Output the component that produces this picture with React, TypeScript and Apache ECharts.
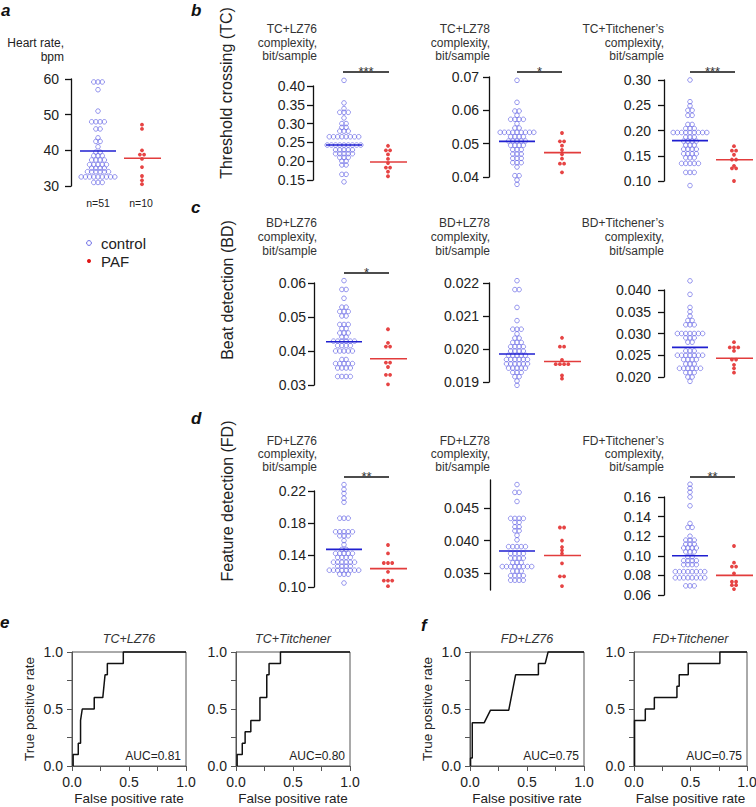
import React, { useEffect, useRef } from 'react';
import * as echarts from 'echarts';

const FONT = 'Liberation Sans, Arial, Helvetica, sans-serif';

// ---------- Data: swarm panels (control n=51, PAF n=10) ----------
const hrControl = [59.5, 59.5, 58.5, 57, 51, 48.5, 48.5, 47.5, 47.5, 46, 46, 43.5, 42.5, 42.5, 41, 39.5, 39.5, 38.5, 38.5, 38.5, 37.3, 37.3, 37.3, 37.3, 36, 36, 36, 36, 36, 35, 35, 35, 35, 34, 34, 34, 34, 34, 34, 33, 33, 33, 33, 33, 32, 32, 32, 32, 31, 31, 31];
const hrPAF = [47.2, 46, 40, 38.8, 38.8, 37.6, 35.3, 32.8, 31.6, 30.5];

const tcLz76Control = [0.415, 0.355, 0.34, 0.33, 0.33, 0.33, 0.315, 0.30, 0.30, 0.29, 0.29, 0.28, 0.28, 0.28, 0.27, 0.27, 0.27, 0.27, 0.26, 0.26, 0.26, 0.26, 0.243, 0.243, 0.243, 0.243, 0.243, 0.243, 0.243, 0.243, 0.243, 0.23, 0.23, 0.23, 0.23, 0.23, 0.22, 0.22, 0.22, 0.22, 0.22, 0.21, 0.21, 0.21, 0.20, 0.20, 0.19, 0.19, 0.165, 0.165, 0.145];
const tcLz76PAF = [0.241, 0.229, 0.229, 0.218, 0.206, 0.195, 0.183, 0.183, 0.172, 0.16];

const tcLz78Control = [0.069, 0.0624, 0.0598, 0.0598, 0.0585, 0.0573, 0.0573, 0.0573, 0.0573, 0.056, 0.0547, 0.0547, 0.0534, 0.0534, 0.0534, 0.0534, 0.0534, 0.0534, 0.0534, 0.0534, 0.0534, 0.0521, 0.0521, 0.0521, 0.0521, 0.0508, 0.0508, 0.0508, 0.0508, 0.0508, 0.0495, 0.0495, 0.0495, 0.0495, 0.0482, 0.0482, 0.0482, 0.0469, 0.0469, 0.0469, 0.0456, 0.0456, 0.0456, 0.0443, 0.0443, 0.0443, 0.043, 0.0404, 0.0404, 0.0391, 0.0378];
const tcLz78PAF = [0.0532, 0.0507, 0.0507, 0.0494, 0.0481, 0.0468, 0.0455, 0.044, 0.044, 0.0414];

const tcTitControl = [0.30, 0.257, 0.249, 0.24, 0.24, 0.23, 0.23, 0.212, 0.212, 0.204, 0.204, 0.204, 0.196, 0.196, 0.196, 0.196, 0.196, 0.196, 0.196, 0.196, 0.196, 0.187, 0.187, 0.187, 0.179, 0.179, 0.179, 0.179, 0.171, 0.171, 0.171, 0.163, 0.163, 0.163, 0.163, 0.154, 0.154, 0.154, 0.154, 0.146, 0.146, 0.146, 0.138, 0.138, 0.138, 0.13, 0.13, 0.121, 0.115, 0.115, 0.091];
const tcTitPAF = [0.169, 0.16, 0.16, 0.152, 0.145, 0.14, 0.13, 0.125, 0.125, 0.10];

const bdLz76Control = [0.0607, 0.0581, 0.0581, 0.0555, 0.0529, 0.0529, 0.0516, 0.0516, 0.0516, 0.0503, 0.0503, 0.0478, 0.0478, 0.0478, 0.0466, 0.0466, 0.0453, 0.0453, 0.0453, 0.0441, 0.0441, 0.0429, 0.0429, 0.0429, 0.0429, 0.0429, 0.0429, 0.0416, 0.0416, 0.0416, 0.0416, 0.04, 0.04, 0.04, 0.04, 0.04, 0.0375, 0.0375, 0.0363, 0.0363, 0.0363, 0.0363, 0.0363, 0.035, 0.035, 0.035, 0.035, 0.0325, 0.0325, 0.0325, 0.0325];
const bdLz76PAF = [0.0464, 0.0424, 0.0413, 0.0413, 0.0366, 0.0366, 0.0353, 0.033, 0.033, 0.0302];

const bdLz78Control = [0.02207, 0.0218, 0.0218, 0.02126, 0.02086, 0.0206, 0.0206, 0.0206, 0.02046, 0.02033, 0.02033, 0.0202, 0.0202, 0.0202, 0.02007, 0.02007, 0.02007, 0.02007, 0.01994, 0.01994, 0.01994, 0.01994, 0.01981, 0.01981, 0.01981, 0.01981, 0.01981, 0.01968, 0.01968, 0.01968, 0.01968, 0.01968, 0.01968, 0.01955, 0.01955, 0.01955, 0.01955, 0.01955, 0.01955, 0.01942, 0.01942, 0.01942, 0.01942, 0.01942, 0.01929, 0.01929, 0.01929, 0.01916, 0.01916, 0.01903, 0.0189];
const bdLz78PAF = [0.02034, 0.02007, 0.02007, 0.01967, 0.01954, 0.01954, 0.01954, 0.01954, 0.0192, 0.0191];

const bdTitControl = [0.0421, 0.039, 0.036, 0.035, 0.034, 0.033, 0.033, 0.032, 0.032, 0.032, 0.030, 0.030, 0.030, 0.030, 0.030, 0.030, 0.030, 0.029, 0.029, 0.029, 0.028, 0.028, 0.026, 0.026, 0.026, 0.025, 0.025, 0.025, 0.025, 0.025, 0.025, 0.025, 0.024, 0.024, 0.024, 0.024, 0.023, 0.023, 0.023, 0.022, 0.022, 0.022, 0.022, 0.022, 0.022, 0.021, 0.021, 0.021, 0.020, 0.020, 0.019];
const bdTitPAF = [0.028, 0.0272, 0.0266, 0.0266, 0.026, 0.024, 0.024, 0.0228, 0.022, 0.021];

const fdLz76Control = [0.228, 0.222, 0.217, 0.211, 0.206, 0.186, 0.186, 0.186, 0.169, 0.169, 0.169, 0.169, 0.169, 0.164, 0.164, 0.164, 0.158, 0.153, 0.147, 0.147, 0.142, 0.142, 0.142, 0.142, 0.142, 0.137, 0.137, 0.137, 0.137, 0.131, 0.131, 0.131, 0.131, 0.131, 0.131, 0.126, 0.126, 0.126, 0.126, 0.121, 0.121, 0.121, 0.121, 0.121, 0.121, 0.121, 0.121, 0.116, 0.116, 0.116, 0.105];
const fdLz76PAF = [0.1525, 0.142, 0.13, 0.13, 0.13, 0.119, 0.108, 0.108, 0.108, 0.101];

const fdLz78Control = [0.0486, 0.0474, 0.0474, 0.046, 0.0434, 0.0434, 0.0434, 0.0434, 0.0428, 0.0428, 0.0421, 0.0421, 0.0415, 0.0415, 0.0408, 0.0401, 0.0393, 0.0393, 0.0393, 0.0387, 0.0387, 0.038, 0.038, 0.038, 0.038, 0.0373, 0.0373, 0.0373, 0.0373, 0.0366, 0.0366, 0.0366, 0.036, 0.036, 0.036, 0.036, 0.036, 0.036, 0.036, 0.036, 0.0353, 0.0353, 0.0353, 0.0346, 0.0346, 0.0346, 0.0346, 0.0339, 0.0339, 0.0339, 0.0339];
const fdLz78PAF = [0.042, 0.042, 0.040, 0.039, 0.0385, 0.038, 0.0365, 0.0345, 0.0345, 0.033];

const fdTitControl = [0.173, 0.169, 0.165, 0.16, 0.151, 0.133, 0.129, 0.129, 0.12, 0.116, 0.116, 0.116, 0.112, 0.112, 0.112, 0.108, 0.108, 0.108, 0.108, 0.104, 0.104, 0.104, 0.099, 0.099, 0.095, 0.095, 0.095, 0.095, 0.091, 0.091, 0.091, 0.091, 0.0838, 0.0838, 0.0838, 0.0838, 0.0838, 0.0838, 0.0838, 0.0838, 0.0796, 0.0796, 0.0796, 0.0796, 0.0755, 0.0755, 0.0755, 0.0755, 0.0705, 0.0705, 0.067];
const fdTitPAF = [0.11, 0.093, 0.089, 0.089, 0.082, 0.075, 0.072, 0.07, 0.07, 0.066];

// means (horizontal bars), panel order: a, b1, b2, b3, c1, c2, c3, d1, d2, d3
const meanControl = [39.8, 0.243, 0.0507, 0.180, 0.0427, 0.01985, 0.0268, 0.147, 0.0384, 0.100];
const meanPAF = [37.8, 0.198, 0.0473, 0.142, 0.0377, 0.01962, 0.0243, 0.123, 0.0377, 0.080];

// tick labels
const hrTicks = [30, 40, 50, 60];
const tcLz76Ticks = [0.15, 0.20, 0.25, 0.30, 0.35, 0.40];
const tcLz78Ticks = [0.04, 0.05, 0.06, 0.07];
const tcTitTicks = [0.10, 0.15, 0.20, 0.25, 0.30];
const bdLz76Ticks = [0.03, 0.04, 0.05, 0.06];
const bdLz78Ticks = [0.019, 0.020, 0.021, 0.022];
const bdTitTicks = [0.020, 0.025, 0.030, 0.035, 0.040];
const fdLz76Ticks = [0.10, 0.14, 0.18, 0.22];
const fdLz78Ticks = [0.035, 0.040, 0.045];
const fdTitTicks = [0.06, 0.08, 0.10, 0.12, 0.14, 0.16];

// ROC curves [FPR, TPR]
const rocTcLz76 = [[0.01, 0], [0.01, 0.1], [0.055, 0.1], [0.055, 0.2], [0.075, 0.2], [0.075, 0.4], [0.09, 0.5], [0.195, 0.5], [0.195, 0.6], [0.27, 0.6], [0.29, 0.8], [0.31, 0.8], [0.31, 0.9], [0.45, 0.9], [0.45, 1], [1, 1]];
const rocTcTitchener = [[0.01, 0], [0.01, 0.1], [0.055, 0.1], [0.055, 0.2], [0.08, 0.2], [0.08, 0.3], [0.13, 0.3], [0.13, 0.4], [0.21, 0.4], [0.21, 0.6], [0.27, 0.6], [0.27, 0.8], [0.29, 0.8], [0.29, 0.9], [0.39, 0.9], [0.39, 1], [1, 1]];
const rocFdLz76 = [[0.005, 0], [0.005, 0.07], [0.02, 0.07], [0.02, 0.38], [0.125, 0.38], [0.18, 0.49], [0.34, 0.49], [0.4, 0.8], [0.6, 0.8], [0.6, 0.9], [0.66, 0.9], [0.685, 1], [1, 1]];
const rocFdTitchener = [[0.005, 0], [0.005, 0.4], [0.1, 0.4], [0.1, 0.5], [0.18, 0.5], [0.18, 0.6], [0.38, 0.6], [0.38, 0.7], [0.4, 0.7], [0.4, 0.8], [0.48, 0.8], [0.48, 0.9], [0.76, 0.9], [0.76, 1], [1, 1]];
const rocTitles = ['TC+LZ76', 'TC+Titchener', 'FD+LZ76', 'FD+Titchener'];
const rocAUC = ['AUC=0.81', 'AUC=0.80', 'AUC=0.75', 'AUC=0.75'];

const CONTROL_STROKE = '#6b6be6';
const CONTROL_MEAN = '#1f1fd0';
const PAF_FILL = '#e01515';
const PAF_MEAN = '#e23c3c';
const TICK_FONT = 14;

function swarm(values: number[], min: number, max: number, heightPx: number, cx: number, rowPx: number, colPx: number) {
  const ppu = heightPx / (max - min);
  const bins = new Map<number, number[]>();
  values.forEach((v) => {
    const k = Math.round(((v - min) * ppu) / rowPx);
    if (!bins.has(k)) bins.set(k, []);
    bins.get(k)!.push(v);
  });
  const out: number[][] = [];
  bins.forEach((vs) => {
    const n = vs.length;
    const y = vs.reduce((s, x) => s + x, 0) / n;
    vs.forEach((_, i) => out.push([cx + (i - (n - 1) / 2) * colPx, y]));
  });
  return out;
}

function txt(x: number, y: number, text: string, o: any = {}) {
  const align = o.align || 'left';
  const va = o.va || 'middle';
  return {
    type: 'text',
    x,
    y,
    rotation: o.rot || 0,
    silent: true,
    style: {
      text,
      fontFamily: FONT,
      fontSize: o.size || 12,
      fontStyle: o.italic ? 'italic' : 'normal',
      fontWeight: o.bold ? 'bold' : 'normal',
      fill: o.color || '#222',
      align,
      textAlign: align,
      verticalAlign: va,
      textVerticalAlign: va,
    },
  };
}

function line(x1: number, y1: number, x2: number, y2: number, color = '#111', w = 1.2) {
  return { type: 'line', silent: true, shape: { x1, y1, x2, y2 }, style: { stroke: color, lineWidth: w } };
}

export default function App() {
  const ref = useRef<HTMLDivElement>(null);

  useEffect(() => {
    if (!ref.current) return;
    const chart = echarts.init(ref.current, undefined, { renderer: 'svg' });

    const panels = [
      { c: hrControl, p: hrPAF, ticks: hrTicks, dec: 0, min: 30, max: 60, ax: 71, top: 79, h: 107, w: 95, cx: 98, px: 142, m: 12 },
      { c: tcLz76Control, p: tcLz76PAF, ticks: tcLz76Ticks, dec: 2, min: 0.15, max: 0.40, ax: 313, top: 86, h: 94, w: 100, cx: 344, px: 388, m: 8 },
      { c: tcLz78Control, p: tcLz78PAF, ticks: tcLz78Ticks, dec: 2, min: 0.04, max: 0.07, ax: 489, top: 77, h: 100, w: 92, cx: 517, px: 562, m: 10 },
      { c: tcTitControl, p: tcTitPAF, ticks: tcTitTicks, dec: 2, min: 0.10, max: 0.30, ax: 664, top: 80, h: 101, w: 92, cx: 690, px: 734, m: 13 },
      { c: bdLz76Control, p: bdLz76PAF, ticks: bdLz76Ticks, dec: 2, min: 0.03, max: 0.06, ax: 314, top: 283, h: 102, w: 100, cx: 344, px: 388, m: 8 },
      { c: bdLz78Control, p: bdLz78PAF, ticks: bdLz78Ticks, dec: 3, min: 0.019, max: 0.022, ax: 489, top: 283, h: 99, w: 92, cx: 517, px: 562, m: 10 },
      { c: bdTitControl, p: bdTitPAF, ticks: bdTitTicks, dec: 3, min: 0.020, max: 0.040, ax: 664, top: 290, h: 87, w: 92, cx: 690, px: 734, m: 13 },
      { c: fdLz76Control, p: fdLz76PAF, ticks: fdLz76Ticks, dec: 2, min: 0.10, max: 0.22, ax: 314, top: 491, h: 96, w: 100, cx: 344, px: 388, m: 8 },
      { c: fdLz78Control, p: fdLz78PAF, ticks: fdLz78Ticks, dec: 3, min: 0.0324, max: 0.0493, ax: 490, top: 480, h: 110, w: 92, cx: 517, px: 562, m: 11 },
      { c: fdTitControl, p: fdTitPAF, ticks: fdTitTicks, dec: 2, min: 0.06, max: 0.16, ax: 664, top: 497, h: 98, w: 92, cx: 690, px: 734, m: 13 },
    ];

    const grid: any[] = [];
    const xAxis: any[] = [];
    const yAxis: any[] = [];
    const series: any[] = [];
    const HALF = 18;
    const labelStyle = { fontSize: TICK_FONT, fontFamily: FONT, color: '#222' };

    panels.forEach((pn, i) => {
      grid.push({ left: pn.ax, top: pn.top, width: pn.w, height: pn.h, outerBoundsMode: 'none' });
      xAxis.push({ gridIndex: i, type: 'value', min: pn.ax, max: pn.ax + pn.w, show: false });
      yAxis.push({
        gridIndex: i,
        type: 'value',
        min: pn.min,
        max: pn.max,
        splitLine: { show: false },
        axisLine: { show: true, lineStyle: { color: '#111', width: 1.3 } },
        axisTick: { show: true, length: 6, customValues: pn.ticks, lineStyle: { color: '#111', width: 1.3 } },
        axisLabel: {
          show: true,
          customValues: pn.ticks,
          formatter: (v: number) => v.toFixed(pn.dec),
          margin: pn.m,
          ...labelStyle,
        },
      });
      series.push({
        name: 'control',
        type: 'scatter',
        xAxisIndex: i,
        yAxisIndex: i,
        clip: false,
        silent: true,
        symbol: 'circle',
        symbolSize: 4.6,
        itemStyle: { color: 'rgba(255,255,255,0)', borderColor: CONTROL_STROKE, borderWidth: 0.9 },
        data: swarm(pn.c, pn.min, pn.max, pn.h, pn.cx, 4.3, 4.2),
      });
      series.push({
        name: 'PAF',
        type: 'scatter',
        xAxisIndex: i,
        yAxisIndex: i,
        clip: false,
        silent: true,
        symbol: 'circle',
        symbolSize: 3.8,
        itemStyle: { color: PAF_FILL },
        data: swarm(pn.p, pn.min, pn.max, pn.h, pn.px, 4.3, 4.2),
      });
      series.push({
        name: 'meanC',
        type: 'line',
        xAxisIndex: i,
        yAxisIndex: i,
        symbol: 'none',
        silent: true,
        z: 5,
        lineStyle: { color: CONTROL_MEAN, width: 1.6 },
        data: [[pn.cx - HALF, meanControl[i]], [pn.cx + HALF, meanControl[i]]],
      });
      series.push({
        name: 'meanP',
        type: 'line',
        xAxisIndex: i,
        yAxisIndex: i,
        symbol: 'none',
        silent: true,
        z: 5,
        lineStyle: { color: PAF_MEAN, width: 1.6 },
        data: [[pn.px - HALF, meanPAF[i]], [pn.px + HALF + 1, meanPAF[i]]],
      });
    });

    const rocs = [
      { d: rocTcLz76, left: 72, w: 114, yName: true },
      { d: rocTcTitchener, left: 236, w: 114, yName: false },
      { d: rocFdLz76, left: 470, w: 114, yName: true },
      { d: rocFdTitchener, left: 634, w: 113, yName: false },
    ];
    const base = panels.length;
    const rocFmt = (v: number) => (Math.abs(v * 2 - Math.round(v * 2)) < 1e-6 ? v.toFixed(1) : '');
    rocs.forEach((r, j) => {
      const gi = base + j;
      grid.push({ left: r.left, top: 652, width: r.w, height: 114, show: true, borderColor: '#555', borderWidth: 1, backgroundColor: 'transparent', outerBoundsMode: 'none' });
      const axisCommon = {
        type: 'value',
        min: 0,
        max: 1,
        interval: 0.25,
        gridIndex: gi,
        splitLine: { show: false },
        axisLine: { show: true, lineStyle: { color: '#555', width: 1 } },
        axisTick: { show: true, length: 5, lineStyle: { color: '#555', width: 1 } },
        nameLocation: 'middle',
        nameTextStyle: { fontSize: 13.5, fontFamily: FONT, color: '#222' },
      };
      xAxis.push({ ...axisCommon, axisLabel: { formatter: rocFmt, margin: 9, ...labelStyle }, name: 'False positive rate', nameGap: 25 });
      yAxis.push({ ...axisCommon, axisLabel: { formatter: rocFmt, margin: 9, ...labelStyle }, name: r.yName ? 'True positive rate' : '', nameGap: 36 });
      series.push({
        name: 'roc' + j,
        type: 'line',
        xAxisIndex: gi,
        yAxisIndex: gi,
        symbol: 'none',
        silent: true,
        clip: false,
        lineStyle: { color: '#111', width: 1.5 },
        data: r.d,
      });
    });

    const g: any[] = [];
    g.push(txt(1, 10, 'a', { size: 17, bold: true, italic: true, color: '#111' }));
    g.push(txt(191, 10, 'b', { size: 17, bold: true, italic: true, color: '#111' }));
    g.push(txt(191, 207, 'c', { size: 17, bold: true, italic: true, color: '#111' }));
    g.push(txt(191, 418, 'd', { size: 17, bold: true, italic: true, color: '#111' }));
    g.push(txt(0, 622, 'e', { size: 17, bold: true, italic: true, color: '#111' }));
    g.push(txt(421, 625, 'f', { size: 17, bold: true, italic: true, color: '#111' }));

    g.push(txt(226, 93, 'Threshold crossing (TC)', { size: 16, align: 'center', rot: Math.PI / 2 }));
    g.push(txt(227, 290, 'Beat detection (BD)', { size: 16, align: 'center', rot: Math.PI / 2 }));
    g.push(txt(227, 501, 'Feature detection (FD)', { size: 16, align: 'center', rot: Math.PI / 2 }));

    g.push(txt(64, 43, 'Heart rate,', { size: 12, align: 'right' }));
    g.push(txt(64, 57, 'bpm', { size: 12, align: 'right' }));
    g.push(txt(98, 203, 'n=51', { size: 10.5, align: 'center' }));
    g.push(txt(141, 203, 'n=10', { size: 10.5, align: 'center' }));

    g.push({ type: 'circle', silent: true, shape: { cx: 89, cy: 243, r: 2.4 }, style: { fill: 'none', stroke: CONTROL_STROKE, lineWidth: 1 } });
    g.push(txt(101, 243, 'control', { size: 15 }));
    g.push({ type: 'circle', silent: true, shape: { cx: 89, cy: 261, r: 2 }, style: { fill: PAF_FILL } });
    g.push(txt(101, 261, 'PAF', { size: 15 }));

    const titleRows = [
      { ys: [29, 42.5, 56], names: ['TC+LZ76', 'TC+LZ78', 'TC+Titchener\u2019s'] },
      { ys: [223, 237, 251], names: ['BD+LZ76', 'BD+LZ78', 'BD+Titchener\u2019s'] },
      { ys: [441, 454, 467], names: ['FD+LZ76', 'FD+LZ78', 'FD+Titchener\u2019s'] },
    ];
    const colRight = [317, 490, 664];
    titleRows.forEach((row) => {
      row.names.forEach((nm, k) => {
        g.push(txt(colRight[k], row.ys[0], nm, { size: 12, align: 'right', color: '#333' }));
        g.push(txt(colRight[k], row.ys[1], 'complexity,', { size: 12, align: 'right', color: '#333' }));
        g.push(txt(colRight[k], row.ys[2], 'bit/sample', { size: 12, align: 'right', color: '#333' }));
      });
    });

    const sig = [
      { x1: 343, x2: 389, y: 72, s: '***' },
      { x1: 517, x2: 562, y: 72, s: '*' },
      { x1: 690, x2: 735, y: 72, s: '***' },
      { x1: 344, x2: 389, y: 273, s: '*' },
      { x1: 344, x2: 389, y: 477, s: '**' },
      { x1: 690, x2: 735, y: 477, s: '**' },
    ];
    sig.forEach((s) => {
      g.push(line(s.x1, s.y, s.x2, s.y, '#111', 1.3));
      g.push(txt((s.x1 + s.x2) / 2, s.y - 1, s.s, { size: 13, align: 'center', color: '#333' }));
    });

    rocs.forEach((r, j) => {
      g.push(txt(r.left + r.w / 2, 639, rocTitles[j], { size: 12.5, italic: true, align: 'center', color: '#333' }));
      g.push(txt(r.left + r.w - 5, 756, rocAUC[j], { size: 12, align: 'right', color: '#222' }));
    });

    chart.setOption({
      animation: false,
      backgroundColor: '#fff',
      textStyle: { fontFamily: FONT },
      grid,
      xAxis,
      yAxis,
      series,
      graphic: { elements: g },
    });

    return () => chart.dispose();
  }, []);

  return <div ref={ref} style={{ position: 'fixed', left: 0, top: 0, width: 756, height: 807 }} />;
}
